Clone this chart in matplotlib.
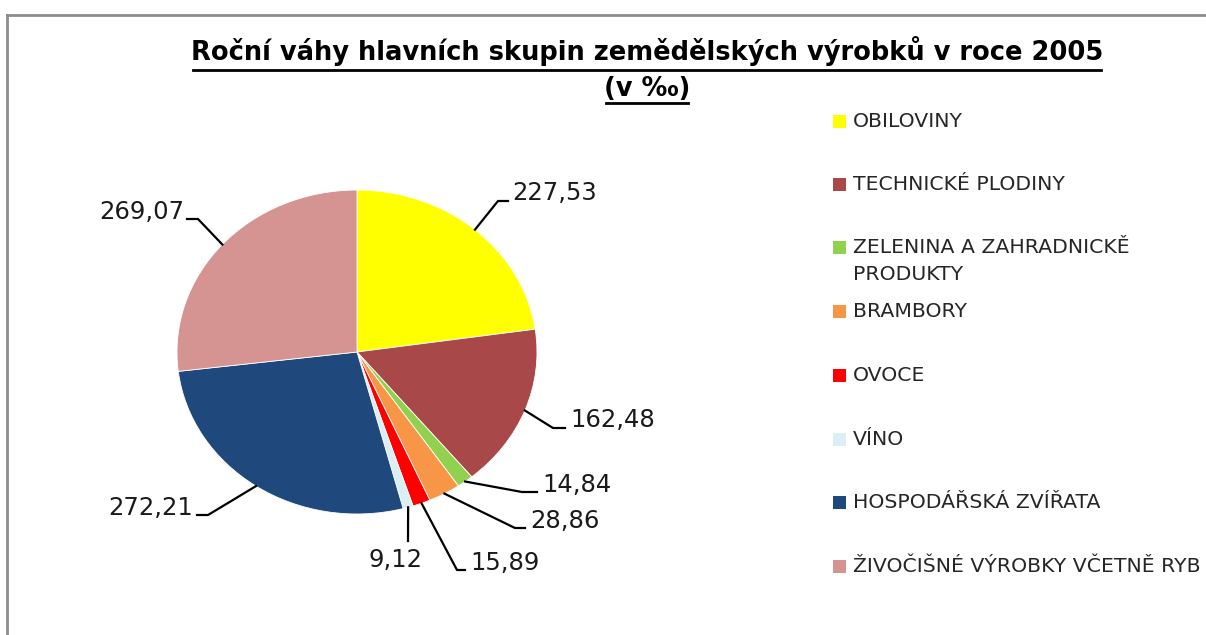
import numpy as np
import matplotlib
matplotlib.use("Agg")
import matplotlib.pyplot as plt
from matplotlib.lines import Line2D
from matplotlib.patches import Rectangle

# data
categories = ["OBILOVINY", "TECHNICKÉ PLODINY", "ZELENINA A ZAHRADNICKĚ\nPRODUKTY",
              "BRAMBORY", "OVOCE", "VÍNO", "HOSPODÁŘSKÁ ZVÍŘATA",
              "ŽIVOČIŠNÉ VÝROBKY VČETNĚ RYB"]
values = [227.53, 162.48, 14.84, 28.86, 15.89, 9.12, 272.21, 269.07]
colors = ["#FFFF00", "#A84848", "#92D050", "#F79646", "#FF0000", "#DAEEF3",
          "#1F497D", "#D59392"]

W, H = 1206, 635
fig = plt.figure(figsize=(W / 100, H / 100), dpi=100)
fig.patch.set_facecolor("white")


def px(x, y):
    # pixel (from top-left) -> figure fraction
    return x / W, 1 - y / H


# frame of the chart area
fig.add_artist(Line2D([7 / W, 7 / W], [0, 1 - 15 / H], transform=fig.transFigure, color="#8c8c8c", lw=2))
fig.add_artist(Line2D([7 / W, 1], [1 - 15 / H, 1 - 15 / H], transform=fig.transFigure, color="#8c8c8c", lw=2))

# pie (slightly wider than tall, like the original)
ax = fig.add_axes([177 / W, (H - 514) / H, 360 / W, 324 / H])
wedges, _ = ax.pie(values, colors=colors, startangle=90, counterclock=False,
                   wedgeprops=dict(edgecolor="white", linewidth=0.6))
ax.set_aspect("auto")
ax.set_xlim(-1, 1)
ax.set_ylim(-1, 1)

# label layout: elbow, line end, text anchor (pixels from top-left)
label_layout = [
    ((498, 201), (508, 201), (512, 193), "left"),
    ((553, 428), (565, 428), (570, 420), "left"),
    ((522, 492), (537, 492), (542, 485), "left"),
    ((515, 528), (525, 528), (530, 521), "left"),
    ((457, 570), (465, 570), (470, 563), "left"),
    ((408, 541), (408, 541), (395, 560), "center"),
    ((208, 515), (197, 515), (193, 508), "right"),
    ((198, 219), (187, 219), (184, 212), "right"),
]

fig.canvas.draw()
inv = fig.transFigure.inverted()
for w, v, (elb, end, txt, ha) in zip(wedges, values, label_layout):
    mid = np.deg2rad((w.theta1 + w.theta2) / 2)
    sx, sy = inv.transform(ax.transData.transform((np.cos(mid), np.sin(mid))))
    ex, ey = px(*elb)
    fx, fy = px(*end)
    fig.add_artist(Line2D([sx, ex, fx], [sy, ey, fy], transform=fig.transFigure,
                          color="black", lw=1.6))
    tx, ty = px(*txt)
    fig.text(tx, ty, f"{v:.2f}".replace(".", ","), ha=ha, va="center",
             fontsize=17.5, family="DejaVu Sans", color="#1a1a1a")

# legend
leg_y = [122, 185, 248, 312, 376, 440, 503, 567]
for c, lab, y in zip(colors, categories, leg_y):
    x0, y0 = px(833, y + 6)
    fig.add_artist(Rectangle((x0, y0), 13 / W, 13 / H, transform=fig.transFigure,
                             facecolor=c, edgecolor="none"))
    tx, ty = px(853, y - 10)
    fig.text(tx, ty, lab, ha="left", va="top", fontsize=14.7, family="DejaVu Sans",
             color="#262626", linespacing=1.55)

# title with underline
r = fig.canvas.get_renderer()
for s, y, ul in [("Roční váhy hlavních skupin zemědělských výrobků v roce 2005", 51, 70),
                 ("(v ‰)", 89, 103)]:
    t = fig.text(647 / W, 1 - y / H, s, ha="center", va="center", fontsize=18.5,
                 family="DejaVu Sans", fontweight="bold", color="black")
    bb = t.get_window_extent(renderer=r)
    fig.add_artist(Line2D([(bb.x0 + 2) / W, (bb.x1 - 2) / W], [1 - ul / H, 1 - ul / H],
                          transform=fig.transFigure, color="black", lw=2))

fig.savefig("out.png", dpi=100)
